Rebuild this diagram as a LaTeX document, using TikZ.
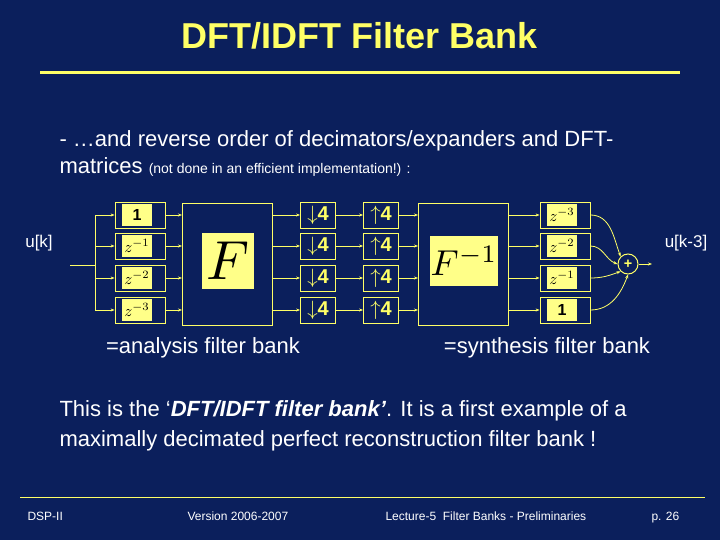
\documentclass[tikz,border=0pt]{standalone}
\usepackage{graphicx}
\usepackage{fontspec}
\setmainfont{Liberation Sans}
\usetikzlibrary{arrows.meta}
\definecolor{bg}{HTML}{0B1F5C}
\definecolor{yl}{HTML}{FFFF66}
\definecolor{yf}{HTML}{FFFF88}
\begin{document}
\begin{tikzpicture}[x=1pt,y=-1pt,
 bx/.style={draw=yl,line width=0.8pt,minimum width=50pt,minimum height=26pt,inner sep=0pt},
 sb/.style={draw=yl,line width=0.8pt,minimum width=35pt,minimum height=26pt,inner sep=0pt,text=yl,font=\bfseries\fontsize{20}{20}\selectfont},
 big/.style={draw=yl,line width=0.8pt,minimum width=90pt,minimum height=122pt},
 inner/.style={fill=yf,inner sep=1pt,text=black},
 ln/.style={draw=yl,line width=0.8pt,-{Stealth[length=4pt]}},
 wt/.style={text=white}]
\fill[bg] (0,0) rectangle (720,540);
\useasboundingbox (0,0) rectangle (720,540);
\node[text=yl,font=\bfseries\fontsize{36}{36}\selectfont] (title) at (360,36) {DFT/IDFT Filter Bank};
\draw[yl,line width=3pt] (40,73) -- (680,73);
\node[wt,anchor=west,align=left,font=\fontsize{22}{27}\selectfont] (t1) at (56,153) {- …and reverse order of decimators/expanders and DFT-\\matrices {\fontsize{14}{14}\selectfont (not done in an efficient implementation!) :}};
% rows
\foreach \i/\y/\l/\r in {1/215/\mathbf{1}/z^{-3},2/246/z^{-1}/z^{-2},3/278/z^{-2}/z^{-1},4/310/z^{-3}/\mathbf{1}}{
 \node[bx] (L\i) at (140,\y) {};
 \node[inner,minimum width=30pt,minimum height=22pt] (Li\i) at (137,\y) {\scalebox{1.6}{$\l$}};
 \node[sb] (D\i) at (318,\y) {$\downarrow$4};
 \node[sb] (U\i) at (381,\y) {$\uparrow$4};
 \node[bx] (R\i) at (565,\y) {};
 \node[inner,minimum width=30pt,minimum height=22pt] (Ri\i) at (562,\y) {\scalebox{1.6}{$\r$}};
 \coordinate (Fi\i) at (182,\y); \coordinate (Fo\i) at (272,\y);
 \coordinate (Gi\i) at (418,\y); \coordinate (Go\i) at (508,\y);
 \coordinate (S\i) at (95,\y);
 \draw[ln] (S\i) -- (L\i);
 \draw[ln] (L\i) -- (Fi\i);
 \draw[ln] (Fo\i) -- (D\i);
 \draw[ln] (D\i) -- (U\i);
 \draw[ln] (U\i) -- (Gi\i);
 \draw[ln] (Go\i) -- (R\i);
}
\node[big] (F) at (227,264) {};
\node[inner,minimum width=52pt,minimum height=56pt] (Fin) at (228,261) {\scalebox{5.5}{$F$}};
\node[big] (G) at (463,264) {};
\node[inner,minimum width=64pt,minimum height=50pt] (Gin) at (464,261) {\scalebox{3.6}{$F^{-1}$}};
\draw[yl,line width=0.8pt] (S1) -- (S4);
\coordinate (in) at (70,265);
\coordinate (sp) at (95,265);
\draw[yl,line width=0.8pt] (in) -- (sp);
\node[draw=yl,line width=1pt,circle,minimum size=20pt,inner sep=0pt,text=yl,font=\bfseries\Large] (P) at (628,264) {+};
\draw[ln] (R1.east) to[out=0,in=110] (P.north west);
\draw[ln] (R2.east) to[out=0,in=160] (P.west);
\draw[ln] (R3.east) to[out=0,in=200] (P.south west);
\draw[ln] (R4.east) to[out=0,in=250] (P.south);
\coordinate (out) at (652,264);
\draw[ln] (P) -- (out);
\node[wt,font=\fontsize{17}{17}\selectfont] (uk) at (39,243) {u[k]};
\node[wt,font=\fontsize{17}{17}\selectfont] (uk3) at (686,243) {u[k-3]};
\node[wt,font=\fontsize{22}{22}\selectfont] (a) at (203,348) {=analysis filter bank};
\node[wt,font=\fontsize{22}{22}\selectfont] (s) at (547,348) {=synthesis filter bank};
\node[wt,anchor=west,align=left,font=\fontsize{22}{30}\selectfont] (t2) at (56,426) {This is the `\textbf{\textit{DFT/IDFT filter bank'}}. It is a first example of a\\maximally decimated perfect reconstruction filter bank !};
\draw[yl,line width=0.6pt] (20,497) -- (705,497);
\node[wt,anchor=west,font=\fontsize{12}{12}\selectfont] (f1) at (24,516) {DSP-II};
\node[wt,anchor=west,font=\fontsize{12}{12}\selectfont] (f2) at (184,516) {Version 2006-2007};
\node[wt,anchor=west,font=\fontsize{12}{12}\selectfont] (f3) at (382,516) {Lecture-5\ \ Filter Banks - Preliminaries};
\node[wt,anchor=west,font=\fontsize{12}{12}\selectfont] (f4) at (648,518) {p. 26};
\end{tikzpicture}
\end{document}
